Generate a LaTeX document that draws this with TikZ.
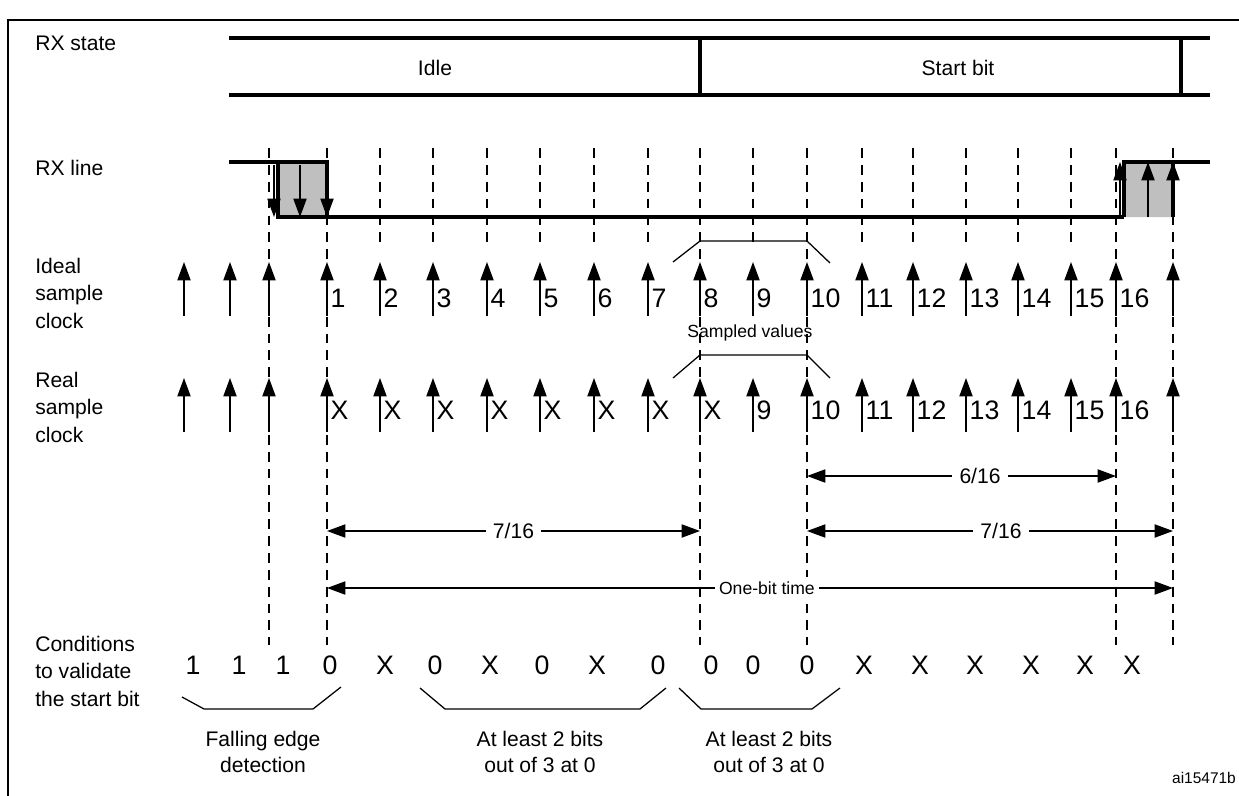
\documentclass[tikz,border=0pt]{standalone}
\usepackage{fontspec}
\setmainfont{Liberation Sans}
\usetikzlibrary{arrows.meta,positioning}
\tikzset{
  sig/.style={line width=2.4pt},
  guide/.style={line width=0.9pt,dash pattern=on 7pt off 5pt},
  clk/.style={-{Triangle[length=4.6mm,width=3.3mm]},line width=1pt},
  dim/.style={{Triangle[length=4.6mm,width=3.3mm]}-{Triangle[length=4.6mm,width=3.3mm]},line width=1pt},
  lbl/.style={font=\fontsize{15}{19.5}\selectfont,align=left,anchor=north west,inner sep=0pt},
  num/.style={font=\fontsize{19}{21}\selectfont,anchor=west,inner sep=1pt},
  cond/.style={font=\fontsize{19}{21}\selectfont,inner sep=0pt},
  mid/.style={font=\fontsize{15}{17}\selectfont,fill=white,inner sep=5pt},
  small/.style={font=\fontsize{12.5}{14}\selectfont,fill=white,inner sep=1pt},
  brace/.style={line width=0.9pt}
}
\begin{document}
\begin{tikzpicture}[x=0.025cm,y=-0.025cm]
    \useasboundingbox (0,0) rectangle (1239,796);
    \draw[line width=1.2pt] (8,800) -- (8,20) -- (1245,20);
    % row labels
    \node[lbl] (lstate) at (35,36) {RX state};
    \node[lbl] (lline) at (35,160) {RX line};
    \node[lbl] (lideal) at (35,258) {Ideal\\sample\\clock};
    \node[lbl] (lreal) at (35,372) {Real\\sample\\clock};
    \node[lbl] (lcond) at (35,636) {Conditions\\to validate\\the start bit};
    % RX state
    \draw[sig] (229,38) -- (1210,38) (229,95) -- (1210,95)
      (700,38) -- (700,95) (1181,38) -- (1181,95);
    \node[font=\fontsize{15}{17}\selectfont] (idle) at (435,68) {Idle};
    \node[font=\fontsize{15}{17}\selectfont] (start) at (958,68) {Start bit};
    % guides
    \foreach \x in {380,433,487,540,594,648,753,862,913,966,1018,1071}
      \draw[guide] (\x,148) -- (\x,245);
    \foreach \x in {269,327,700,807,1116,1173}
      \draw[guide] (\x,148) -- (\x,645);
    % RX line
    \fill[gray!50] (278,162) rectangle (327,217) (1124,162) rectangle (1173,217);
    \draw[sig] (229,162) -- (327,162) -- (327,217) (278,162) -- (278,217) -- (1124,217)
      (1124,217) -- (1124,162) -- (1210,162) (1173,162) -- (1173,217);
    \foreach \x in {274,300,327}
      \draw[clk] (\x,165) -- (\x,217);
    \foreach \x in {1120,1148,1173}
      \draw[clk] (\x,217) -- (\x,162);
    % clocks
    \foreach \x in {184,230,269,327,380,433,487,540,594,648,700,753,807,862,913,966,1018,1071,1116,1173} {
      \draw[clk] (\x,316) -- (\x,262);
      \draw[clk] (\x,432) -- (\x,378);
    }
    \foreach \x [count=\i] in {327,380,433,487,540,594,648,700,753,807,862,913,966,1018,1071,1116} {
      \node[num] (i\i) at (\x+2,298) {\i};
      \ifnum\i<9 \node[num] (r\i) at (\x+2,410) {X};
      \else \node[num] (r\i) at (\x+2,410) {\i}; \fi
    }
    % sampled values
    \draw[brace] (673,262) -- (700,241) -- (807,241) -- (830,263);
    \draw[brace] (673,378) -- (700,355) -- (807,355) -- (830,378);
    \node[small,fill=none] (samp) at (750,333) {Sampled values};
    % durations
    \draw[dim] (807,476) -- node[mid,pos=0.56] {6/16} (1116,476);
    \draw[dim] (327,531) -- node[mid,pos=0.5] {7/16} (700,531);
    \draw[dim] (807,531) -- node[mid,pos=0.53] {7/16} (1173,531);
    \draw[dim] (327,588) -- node[small,inner sep=3pt,pos=0.52] {One-bit time} (1173,588);
    % conditions
    \foreach \v/\x in {1/193,1/239,1/283,0/330,X/385,0/435,X/490,0/542,X/597,0/658,0/711,0/753,0/807,X/864,X/920,X/975,X/1031,X/1085,X/1132}
      \node[cond] at (\x,665) {\v};
    \draw[brace] (182,697) -- (204,709) -- (313,709) -- (341,687);
    \draw[brace] (420,688) -- (445,709) -- (640,709) -- (666,688);
    \draw[brace] (679,688) -- (701,709) -- (812,709) -- (840,688);
    \node[font=\fontsize{15}{19}\selectfont,align=center] (fall) at (263,752) {Falling edge\\detection};
    \node[font=\fontsize{15}{19}\selectfont,align=center] (two1) at (540,752) {At least 2 bits\\out of 3 at 0};
    \node[font=\fontsize{15}{19}\selectfont,align=center] (two2) at (769,752) {At least 2 bits\\out of 3 at 0};
    \node[font=\fontsize{11}{12}\selectfont] (ref) at (1204,778) {ai15471b};
\end{tikzpicture}
\end{document}
